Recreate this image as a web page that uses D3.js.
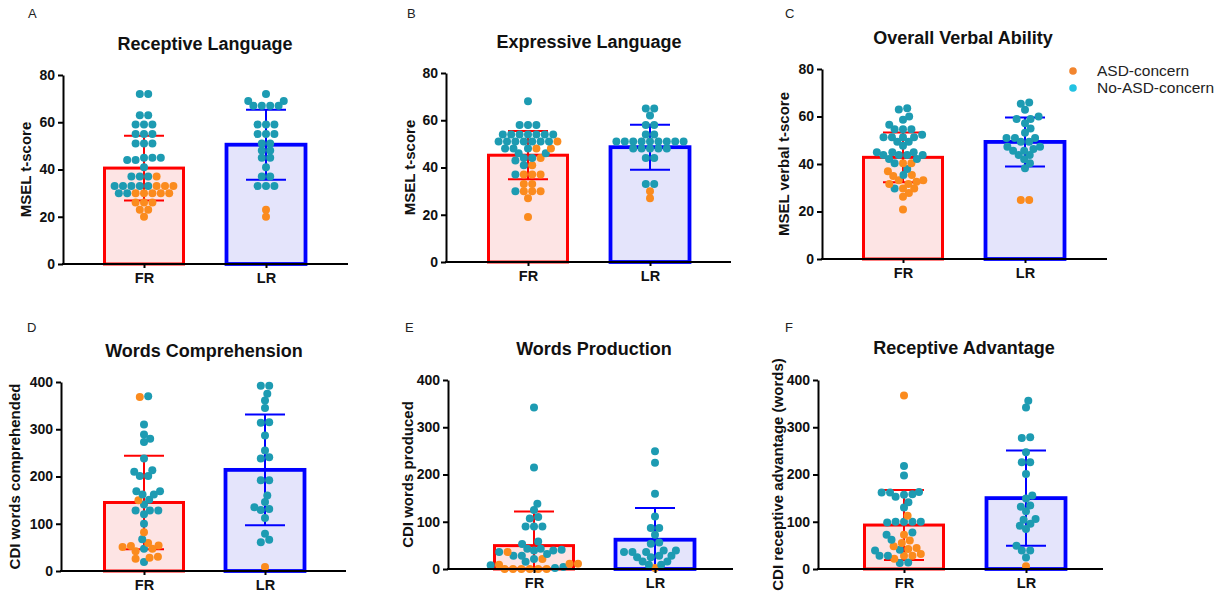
<!DOCTYPE html>
<html>
<head>
<meta charset="utf-8">
<script src="https://cdn.jsdelivr.net/npm/d3@7"></script>
<style>
  body { margin: 0; background: #fff; }
  svg { display: block; font-family: "Liberation Sans", Arial, sans-serif; }
</style>
</head>
<body>
<svg id="chart" width="1225" height="598"></svg>
<script>
var groups = ["FR", "LR"];
var msetTicks = [0, 20, 40, 60, 80];
var cdiTicks = [0, 100, 200, 300, 400];
var legendLabels = ["ASD-concern", "No-ASD-concern"];

// A  Receptive Language
var aMean = [40.6, 50.5], aSd = [13.7, 14.8];
var aFrTeal = [72, 72, 63, 63, 59, 59, 59, 55, 55, 55, 51, 51, 51, 45, 44, 45, 44, 45, 41, 37, 37, 37, 33, 33, 33, 33, 33, 30, 30];
var aFrOrange = [37, 33, 33, 33, 30, 30, 30, 30, 30, 26, 26, 26, 23, 23, 20];
var aLrTeal = [72, 69, 69, 67, 67, 67, 67, 59, 59, 59, 55, 55, 55, 51, 51, 48, 48, 45, 45, 41, 37, 37, 33, 33, 33];
var aLrOrange = [23, 20];

// B  Expressive Language
var bMean = [45.2, 48.6], bSd = [10.2, 9.5];
var bFrTeal = [68, 58, 58, 58, 54, 54, 54, 54, 54, 54, 54, 51, 51, 51, 51, 51, 51, 51, 48, 48, 48, 46, 46, 44, 44, 43, 41, 37, 30];
var bFrOrange = [51, 48, 48, 44, 41, 37, 37, 37, 33, 33, 30, 30, 30, 27, 19];
var bLrTeal = [65, 65, 62, 58, 58, 54, 54, 51, 51, 51, 51, 51, 51, 51, 51, 51, 48, 48, 48, 48, 48, 44, 44, 33, 33];
var bLrOrange = [30, 27];

// C  Overall Verbal Ability
var cMean = [42.8, 49.3], cSd = [10.5, 10.3];
var cFrTeal = [63.5, 63, 60, 58.6, 56.5, 54.6, 54.6, 54.6, 52.3, 51.3, 51.3, 51.3, 51.3, 49.4, 49.4, 47.7, 44.9, 44.9, 44.9, 43.8, 43.8, 43.8, 43.8, 42.1, 42.1, 40.3, 37.9, 35.4, 29.7];
var cFrOrange = [40.3, 40.3, 36.9, 35.4, 35, 33.2, 33.2, 32.5, 31.6, 31.6, 29.7, 29.7, 27.8, 26.2, 20.8];
var cLrTeal = [65.9, 65.4, 62.8, 60, 59, 59, 57.2, 55, 53.2, 51, 51, 51, 49.4, 49.4, 47.3, 47.3, 46.3, 45.6, 45.6, 43.8, 43.8, 42, 40.3, 38.2];
var cLrOrange = [24.8, 24.8];

// D  Words Comprehension
var dMean = [145, 214], dSd = [99, 117];
var dFrTeal = [370, 310, 289, 280, 273, 238, 213, 210, 201, 201, 169, 169, 162, 162, 151, 141, 128, 128, 128, 120, 100, 67, 47, 19];
var dFrOrange = [368, 150, 82, 59, 54, 51, 47, 42, 53, 28, 26, 30];
var dLrTeal = [392, 392, 375, 361, 345, 315, 314, 287, 255, 241, 238, 192, 192, 160, 146, 135, 131, 129, 112, 79, 66, 61];
var dLrOrange = [8.5];

// E  Words Production
var eMean = [49.5, 62], eSd = [72, 67];
var eFrTeal = [342, 215, 138, 125, 110, 107, 90, 90, 90, 58, 53, 43, 43, 41, 39, 39, 36, 32, 28, 28, 21, 15.5, 7.7, 4, 2];
var eFrOrange = [36, 21, 11, 9, 11, 0, 0, 0, 0, 0, 0];
var eLrTeal = [249, 225, 159, 111, 87, 87, 72.5, 56, 53.5, 39.4, 39.4, 36, 36, 36, 28, 28, 25, 25, 16, 16, 9, 9];
var eLrOrange = [2];

// F  Receptive Advantage
var fMean = [93, 150], fSd = [74, 101];
var fFrTeal = [218, 198, 163, 162, 162, 158, 157, 153, 141.5, 130, 100, 100, 100, 100, 98.6, 77.5, 72.5, 62, 40.8, 39.4, 28, 28, 14, 12.7];
var fFrOrange = [367, 112.7, 72.5, 60.5, 55, 47.9, 44.4, 42.3, 31.7, 28, 28, 21.8];
var fLrTeal = [356, 342, 279, 277, 247, 226, 226, 201, 155.6, 149, 134.5, 132, 122, 106, 104, 96, 91.5, 84.5, 49, 39.4, 39.4, 24.6];
var fLrOrange = [5.6];

var teal = "#1d9bb2", orange = "#fb8b1e";
var barFill = ["#fde4e4", "#e4e4fb"], barStroke = ["#ff0000", "#0000ff"], barWidth = [3, 3.8];

var panels = [
  {letter: "A", title: "Receptive Language", ylab: "MSEL t-score", ticks: msetTicks,
   mean: aMean, sd: aSd, dots: [[aFrTeal, aFrOrange], [aLrTeal, aLrOrange]],
   ax: 63, top: 75, bot: 264, right: 348, fr: 144, lr: 266, labX: 26, titleX: 205, titleY: 50, lx: 28, ly: 18},
  {letter: "B", title: "Expressive Language", ylab: "MSEL t-score", ticks: msetTicks,
   mean: bMean, sd: bSd, dots: [[bFrTeal, bFrOrange], [bLrTeal, bLrOrange]],
   ax: 446, top: 73, bot: 262, right: 731, fr: 528, lr: 650, labX: 410, titleX: 589, titleY: 48, lx: 407, ly: 18},
  {letter: "C", title: "Overall Verbal Ability", ylab: "MSEL verbal t-score", ticks: msetTicks,
   mean: cMean, sd: cSd, dots: [[cFrTeal, cFrOrange], [cLrTeal, cLrOrange]],
   ax: 822, top: 69, bot: 259, right: 1107, fr: 903, lr: 1025, labX: 784, titleX: 963, titleY: 44, lx: 785, ly: 18},
  {letter: "D", title: "Words Comprehension", ylab: "CDI words comprehended", ticks: cdiTicks,
   mean: dMean, sd: dSd, dots: [[dFrTeal, dFrOrange], [dLrTeal, dLrOrange]],
   ax: 61, top: 382, bot: 571, right: 346, fr: 144, lr: 265, labX: 15, titleX: 204, titleY: 357, lx: 27, ly: 332},
  {letter: "E", title: "Words Production", ylab: "CDI words produced", ticks: cdiTicks,
   mean: eMean, sd: eSd, dots: [[eFrTeal, eFrOrange], [eLrTeal, eLrOrange]],
   ax: 448, top: 380, bot: 569, right: 733, fr: 534, lr: 655, labX: 408, titleX: 594, titleY: 355, lx: 405, ly: 332},
  {letter: "F", title: "Receptive Advantage", ylab: "CDI receptive advantage (words)", ticks: cdiTicks,
   mean: fMean, sd: fSd, dots: [[fFrTeal, fFrOrange], [fLrTeal, fLrOrange]],
   ax: 818, top: 380, bot: 569, right: 1103, fr: 904, lr: 1026, labX: 778, titleX: 964, titleY: 354, lx: 785, ly: 332}
];

var svg = d3.select("#chart");
var R = 4, D = 8.4, Dc = 7;

// simple beeswarm: rows of (near) equal values are centred, then pushed aside on collision
function swarm(points, cx) {
    var pts = points.slice().sort(function (a, b) { return b.y - a.y; });
    var rows = [];
    pts.forEach(function (p) {
        var last = rows[rows.length - 1];
        if (last && Math.abs(last[0].y - p.y) < 2.6) last.push(p);
        else rows.push([p]);
    });
    var placed = [];
    rows.forEach(function (row) {
        var n = row.length;
        var order = row.map(function (p, i) { return {p: p, ideal: (i - (n - 1) / 2) * D}; })
            .sort(function (a, b) { return Math.abs(a.ideal) - Math.abs(b.ideal); });
        order.forEach(function (o) {
            var cands = [o.ideal];
            placed.forEach(function (q) {
                var dy = q.y - o.p.y;
                var lim = q.row === row ? D : Dc;
                if (Math.abs(dy) < lim) {
                    var dx = Math.sqrt(lim * lim - dy * dy);
                    cands.push(q.x + dx, q.x - dx);
                }
            });
            var ok = cands.filter(function (x) {
                return placed.every(function (q) {
                    var lim = q.row === row ? D : Dc;
                    return (q.x - x) * (q.x - x) + (q.y - o.p.y) * (q.y - o.p.y) >= lim * lim - 0.01;
                });
            });
            ok.sort(function (a, b) { return Math.abs(a - o.ideal) - Math.abs(b - o.ideal); });
            o.p.x = ok[0];
            o.p.row = row;
            placed.push(o.p);
        });
    });
    placed.forEach(function (p) { p.x += cx; });
    return placed;
}

panels.forEach(function (P) {
    var g = svg.append("g");
    var maxV = P.ticks[P.ticks.length - 1];
    var y = d3.scaleLinear().domain([0, maxV]).range([P.bot, P.top]);
    var x = d3.scalePoint().domain(groups).range([P.fr, P.lr]);

    // bars
    g.selectAll(".bar")
        .data(P.mean)
        .enter().append("rect")
        .attr("x", function (d, i) { return x(groups[i]) - 39.5; })
        .attr("y", function (d) { return y(d); })
        .attr("width", 79)
        .attr("height", function (d) { return P.bot - y(d); })
        .attr("fill", function (d, i) { return barFill[i]; })
        .attr("stroke", function (d, i) { return barStroke[i]; })
        .attr("stroke-width", function (d, i) { return barWidth[i]; });

    // error bars (mean +- SD), clipped at 0
    P.mean.forEach(function (m, i) {
        var cx = x(groups[i]);
        var hi = m + P.sd[i], lo = m - P.sd[i];
        g.append("line")
            .attr("x1", cx).attr("x2", cx)
            .attr("y1", y(hi)).attr("y2", y(Math.max(lo, 0)))
            .attr("stroke", barStroke[i]).attr("stroke-width", 2);
        [hi, lo].forEach(function (v) {
            if (v < 0) return;
            g.append("line")
                .attr("x1", cx - 20).attr("x2", cx + 20)
                .attr("y1", y(v)).attr("y2", y(v))
                .attr("stroke", barStroke[i]).attr("stroke-width", 2);
        });
    });

    // dots
    P.dots.forEach(function (pair, i) {
        var pts = [];
        pair[0].forEach(function (v) { pts.push({v: v, c: teal, y: y(v)}); });
        pair[1].forEach(function (v) { pts.push({v: v, c: orange, y: y(v)}); });
        var laid = swarm(pts, x(groups[i]));
        g.selectAll(".dot" + i)
            .data(laid)
            .enter().append("circle")
            .attr("cx", function (d) { return d.x; })
            .attr("cy", function (d) { return d.y; })
            .attr("r", R)
            .attr("fill", function (d) { return d.c; });
    });

    // axes
    var yAxis = g.append("g")
        .attr("transform", "translate(" + P.ax + ",0)")
        .call(d3.axisLeft(y).tickValues(P.ticks).tickSize(5).tickSizeOuter(0).tickPadding(3));
    var xAxis = g.append("g")
        .attr("transform", "translate(0," + P.bot + ")")
        .call(d3.axisBottom(x).tickSize(4).tickPadding(5));
    xAxis.select(".domain").remove();
    xAxis.append("line")
        .attr("x1", P.ax - 1).attr("x2", P.right)
        .attr("stroke", "#000").attr("stroke-width", 2);
    [yAxis, xAxis].forEach(function (a) {
        a.selectAll("path, line").attr("stroke", "#000").attr("stroke-width", 2);
        a.selectAll("text")
            .attr("fill", "#111")
            .style("font-size", "14px")
            .style("font-weight", "bold")
            .style("font-family", "'Liberation Sans', Arial, sans-serif");
    });
    xAxis.selectAll("text").style("font-size", "14.5px");

    // labels
    g.append("text")
        .attr("x", P.titleX)
        .attr("y", P.titleY)
        .attr("text-anchor", "middle")
        .style("font-size", "18px")
        .style("font-weight", "bold")
        .attr("fill", "#111")
        .text(P.title);

    g.append("text")
        .attr("transform", "translate(" + P.labX + "," + ((P.top + P.bot) / 2) + ") rotate(-90)")
        .attr("text-anchor", "middle")
        .attr("dy", "0.36em")
        .style("font-size", "15px")
        .style("font-weight", "bold")
        .attr("fill", "#111")
        .text(P.ylab);

    g.append("text")
        .attr("x", P.lx)
        .attr("y", P.ly)
        .style("font-size", "13px")
        .attr("fill", "#222")
        .text(P.letter);
});

// legend
var legendColors = ["#f2852e", "#22c2e2"];
var leg = svg.append("g").attr("transform", "translate(1073,71)");
legendLabels.forEach(function (t, i) {
    leg.append("circle")
        .attr("cx", 0).attr("cy", i * 17)
        .attr("r", 3.8)
        .attr("fill", legendColors[i]);
    leg.append("text")
        .attr("x", 24).attr("y", i * 17 + 5)
        .style("font-size", "15.5px")
        .attr("fill", "#222")
        .text(t);
});
</script>
</body>
</html>
